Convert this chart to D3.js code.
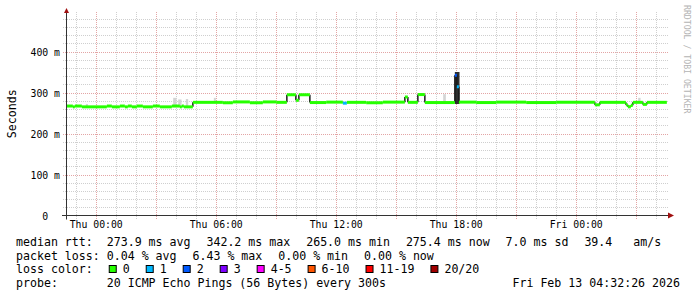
<!DOCTYPE html>
<html>
<head>
<meta charset="utf-8">
<script src="https://cdn.jsdelivr.net/npm/d3@7"></script>
<style>
  body { margin: 0; background: #fff; }
  svg text { font-family: "DejaVu Sans Mono", monospace; white-space: pre; fill: #000; }
</style>
</head>
<body>
<div id="grafica"></div>
<script>
'use strict'

//---------------------------DATOS--------------------------------//
var inicio = '2026-02-11T22:32:26Z';
var fin = '2026-02-13T04:32:26Z';

// mediana (escalonada): cada valor vale hasta el siguiente instante
var medianTimes = [
  '2026-02-11T22:32', '2026-02-11T22:50', '2026-02-11T22:56', '2026-02-11T23:17',
  '2026-02-12T00:32', '2026-02-12T00:47', '2026-02-12T01:11', '2026-02-12T01:26',
  '2026-02-12T01:35', '2026-02-12T01:47', '2026-02-12T02:02', '2026-02-12T02:20',
  '2026-02-12T02:50', '2026-02-12T03:11', '2026-02-12T03:47', '2026-02-12T04:11',
  '2026-02-12T04:17', '2026-02-12T04:23', '2026-02-12T04:50', '2026-02-12T06:20',
  '2026-02-12T06:50', '2026-02-12T07:41', '2026-02-12T08:20', '2026-02-12T09:00',
  '2026-02-12T09:32', '2026-02-12T09:59', '2026-02-12T10:08', '2026-02-12T10:41',
  '2026-02-12T11:30', '2026-02-12T12:20', '2026-02-12T12:32', '2026-02-12T13:30',
  '2026-02-12T14:20', '2026-02-12T15:26', '2026-02-12T15:35', '2026-02-12T16:05',
  '2026-02-12T16:26', '2026-02-12T17:56', '2026-02-12T18:02', '2026-02-12T18:08',
  '2026-02-12T19:00', '2026-02-12T20:00', '2026-02-12T21:30', '2026-02-12T23:00',
  '2026-02-13T00:56', '2026-02-13T01:11', '2026-02-13T02:29', '2026-02-13T02:35',
  '2026-02-13T02:44', '2026-02-13T02:50', '2026-02-13T03:20', '2026-02-13T03:32',
  '2026-02-13T04:32'
];
var medianValues = [
  267, 265, 267, 265,
  267, 265, 267, 265,
  267, 265, 267, 265,
  267, 265, 267, 265,
  267, 265, 276, 275,
  277, 275, 277, 276,
  294.5, 281, 294.5, 275.5,
  276.5, 274, 276, 275,
  276.5, 289, 276, 295,
  275.5, 342, 314, 276.5,
  275.5, 276.5, 275.5, 276.5,
  270, 276, 270, 265,
  269, 276, 271, 276,
  276
];
// perdidas por intervalo (indice en lossLabels)
var medianLoss = [
  0, 0, 0, 0, 0, 0, 0, 0, 0, 0, 0, 0, 0, 0, 0, 0, 0, 0, 0, 0,
  0, 0, 0, 0, 0, 0, 0, 0, 0, 1, 0, 0, 0, 0, 0, 0, 0, 2, 1, 0,
  0, 0, 0, 0, 0, 0, 0, 0, 0, 0, 0, 0, 0
];

// humo (dispersion de los pings)
var smokeStart = ['2026-02-11T23:29', '2026-02-12T03:51', '2026-02-12T04:06', '2026-02-12T04:29',
  '2026-02-12T05:53', '2026-02-12T17:21', '2026-02-12T17:56', '2026-02-13T03:06'];
var smokeEnd = ['2026-02-11T23:35', '2026-02-12T04:01', '2026-02-12T04:16', '2026-02-12T04:36',
  '2026-02-12T05:59', '2026-02-12T17:29', '2026-02-12T18:10', '2026-02-13T03:13'];
var smokeLow = [264, 264, 264, 264, 275, 275, 272, 275];
var smokeHigh = [272, 287, 283, 284, 287, 296, 350, 287];
var smokeDense = [0, 0, 0, 0, 0, 0, 1, 0];

var yTicks = [0, 100, 200, 300, 400];
var yTickLabels = ['0  ', '100 m', '200 m', '300 m', '400 m'];
var xTicks = ['2026-02-12T00:00Z', '2026-02-12T06:00Z', '2026-02-12T12:00Z', '2026-02-12T18:00Z', '2026-02-13T00:00Z'];

var lossLabels = ['0', '1', '2', '3', '4-5', '6-10', '11-19', '20/20'];
var lossColors = ['#26ff00', '#00b8ff', '#0059ff', '#7e00ff', '#ff00ff', '#ff5500', '#ff0000', '#a00000'];

var statsRtt = ['median rtt:', '273.9 ms avg', '342.2 ms max', '265.0 ms min', '275.4 ms now', '7.0 ms sd', '39.4   am/s'];
var statsLoss = ['packet loss:', '0.04 % avg', '6.43 % max', '0.00 % min', '0.00 % now'];
var probeText = ['probe:', '20 ICMP Echo Pings (56 Bytes) every 300s'];
var fechaTexto = 'Fri Feb 13 04:32:26 2026';

//---------------------------ESCALAS--------------------------------//
var W = 697, H = 297;
var plotLeft = 67, plotRight = 667, plotTop = 12, plotBottom = 215.5;

function t(s) { return new Date(s.length === 16 ? s + ':00Z' : s); }

var x = d3.scaleUtc().domain([t(inicio), t(fin)]).range([plotLeft, plotRight]);
var y = d3.scaleLinear().domain([0, (plotBottom - plotTop) / 0.41]).range([plotBottom, plotTop]);

var svg = d3.select('#grafica').append('svg')
  .attr('width', W)
  .attr('height', H)
  .attr('xml:space', 'preserve');

svg.append('rect').attr('width', W).attr('height', H).attr('fill', '#fff');

//---------------------------REJILLA--------------------------------//
var horas = d3.utcHour.range(t(inicio), t(fin));
horas.forEach(function (h) {
  var mayor = h.getUTCHours() % 3 === 0;
  svg.append('line')
    .attr('x1', Math.round(x(h)) + 0.5).attr('x2', Math.round(x(h)) + 0.5)
    .attr('y1', plotTop).attr('y2', plotBottom + 4)
    .attr('stroke', mayor ? '#e3a5a5' : '#cfcfcf')
    .attr('stroke-dasharray', '1,1');
});

d3.range(20, y.domain()[1], 20).forEach(function (v) {
  var mayor = v % 100 === 0;
  svg.append('line')
    .attr('x1', plotLeft - 4).attr('x2', plotRight + 2)
    .attr('y1', Math.round(y(v)) + 0.5).attr('y2', Math.round(y(v)) + 0.5)
    .attr('stroke', mayor ? '#e3a5a5' : '#cfcfcf')
    .attr('stroke-dasharray', '1,1');
});

//---------------------------HUMO--------------------------------//
smokeStart.forEach(function (s, i) {
  svg.append('rect')
    .attr('x', x(t(s)))
    .attr('width', x(t(smokeEnd[i])) - x(t(s)))
    .attr('y', y(smokeHigh[i]))
    .attr('height', y(smokeLow[i]) - y(smokeHigh[i]))
    .attr('fill', smokeDense[i] ? '#2e2e2e' : '#d4d4d4');
});

//---------------------------MEDIANA--------------------------------//
var puntos = medianTimes.map(function (s, i) {
  return { t: t(s), v: medianValues[i], loss: medianLoss[i] };
});

// tramos verticales
for (let i = 1; i < puntos.length; i++) {
  let a = puntos[i - 1], b = puntos[i];
  let salto = Math.abs(a.v - b.v);
  svg.append('line')
    .attr('x1', x(b.t)).attr('x2', x(b.t))
    .attr('y1', y(a.v)).attr('y2', y(b.v))
    .attr('stroke', salto > 4 ? '#1a1a1a' : lossColors[0])
    .attr('stroke-width', salto > 4 ? 1.5 : 3);
}
// tramos horizontales con color de perdidas
for (let i = 0; i < puntos.length - 1; i++) {
  let p = puntos[i], q = puntos[i + 1];
  svg.append('line')
    .attr('x1', x(p.t)).attr('x2', x(q.t))
    .attr('y1', y(p.v)).attr('y2', y(p.v))
    .attr('stroke', lossColors[p.loss])
    .attr('stroke-width', 3);
}

//---------------------------EJES--------------------------------//
svg.append('line')
  .attr('x1', plotLeft - 0.5).attr('x2', plotLeft - 0.5)
  .attr('y1', plotBottom + 4).attr('y2', plotTop - 1)
  .attr('stroke', '#333');
svg.append('line')
  .attr('x1', plotLeft - 5).attr('x2', plotRight + 2)
  .attr('y1', plotBottom).attr('y2', plotBottom)
  .attr('stroke', '#333');
svg.append('path')
  .attr('d', 'M' + (plotLeft - 3) + ',' + (plotTop + 1) + 'L' + (plotLeft - 0.5) + ',' + (plotTop - 4) + 'L' + (plotLeft + 2) + ',' + (plotTop + 1) + 'Z')
  .attr('fill', '#a01010');
svg.append('path')
  .attr('d', 'M' + (plotRight + 1) + ',' + (plotBottom - 3) + 'L' + (plotRight + 7) + ',' + plotBottom + 'L' + (plotRight + 1) + ',' + (plotBottom + 3) + 'Z')
  .attr('fill', '#a01010');

yTicks.forEach(function (v, i) {
  svg.append('text')
    .attr('x', 60).attr('y', Math.round(y(v)) + 4)
    .attr('text-anchor', 'end')
    .style('font-size', '9.8px')
    .text(yTickLabels[i]);
});

var fmt = d3.utcFormat('%a %H:%M');
xTicks.forEach(function (s) {
  svg.append('text')
    .attr('x', x(new Date(s))).attr('y', 228)
    .attr('text-anchor', 'middle')
    .style('font-size', '9.8px')
    .text(fmt(new Date(s)));
});

svg.append('text')
  .attr('transform', 'translate(16,' + ((plotTop + plotBottom) / 2) + ') rotate(-90)')
  .attr('text-anchor', 'middle')
  .style('font-size', '11.6px')
  .text('Seconds');

svg.append('text')
  .attr('transform', 'translate(684,5) rotate(90)')
  .attr('text-anchor', 'start')
  .style('font-size', '8.2px')
  .style('fill', '#b4b4b4')
  .text('RRDTOOL / TOBI OETIKER');

//---------------------------LEYENDA--------------------------------//
var cw = 6.98;
var filas = [246, 259.5, 273, 286.5];

function filaColumnas(items, fy) {
  var cx = 16;
  items.forEach(function (s, i) {
    svg.append('text')
      .attr('x', cx).attr('y', fy)
      .style('font-size', '11.6px')
      .text(s);
    cx += i === 0 ? 13 * cw : (s.length + 2) * cw + 2;
  });
}
filaColumnas(statsRtt, filas[0]);
filaColumnas(statsLoss, filas[1]);
filaColumnas(probeText, filas[3]);

svg.append('text')
  .attr('x', 16).attr('y', filas[2])
  .style('font-size', '11.6px')
  .text('loss color:');

var bx = 16 + 13 * cw + 2;
lossLabels.forEach(function (l, i) {
  svg.append('rect')
    .attr('x', bx + 0.5).attr('y', filas[2] - 7.5)
    .attr('width', 7).attr('height', 7)
    .attr('fill', lossColors[i])
    .attr('stroke', '#000');
  svg.append('text')
    .attr('x', bx + 14).attr('y', filas[2])
    .style('font-size', '11.6px')
    .text(l);
  bx += 8 + 6 + l.length * cw + 16;
});

svg.append('text')
  .attr('x', 680).attr('y', filas[3])
  .attr('text-anchor', 'end')
  .style('font-size', '11.6px')
  .text(fechaTexto);
</script>
</body>
</html>
